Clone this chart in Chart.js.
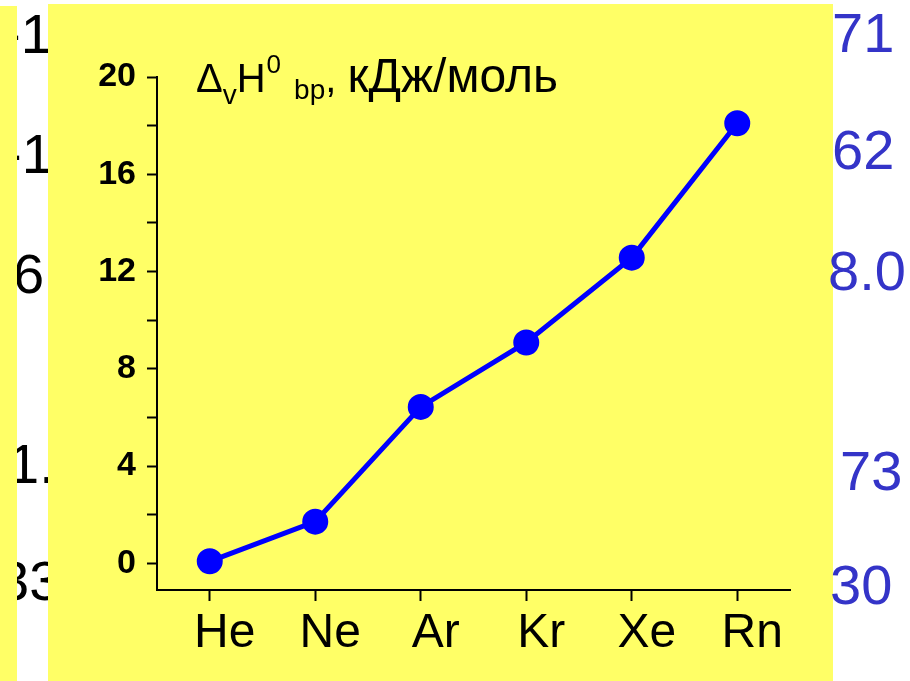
<!DOCTYPE html>
<html lang="ru">
<head>
  <meta charset="UTF-8">
  <title>Enthalpy of vaporization of noble gases</title>
  <script src="https://cdn.jsdelivr.net/npm/chart.js"></script>
  <style>
    body {
      margin: 0;
      width: 910px;
      height: 681px;
      overflow: hidden;
      background-color: #fff;
      font-family: "Liberation Sans", Arial, sans-serif;
      position: relative;
    }
    .strip {
      position: absolute;
      left: 0;
      top: 6px;
      width: 17px;
      height: 675px;
      background-color: #ffff66;
    }
    .panel {
      position: absolute;
      left: 48px;
      top: 4px;
      width: 785px;
      height: 677px;
      background-color: #ffff66;
    }
    .frag {
      position: absolute;
      font-size: 56px;
      line-height: 56px;
      white-space: nowrap;
      color: #000;
    }
    .frag.blue {
      color: #3434c8;
    }
    #chart {
      position: absolute;
      left: 0;
      top: 0;
    }
    #title {
      position: absolute;
      left: 196px;
      top: 58px;
      font-size: 40px;
      line-height: 40px;
      color: #000;
      white-space: nowrap;
    }
    #title span {
      position: relative;
      line-height: 0;
    }
    #title .sub-v { font-size: 28px; top: 12px; }
    #title .sup-0 { font-size: 26px; top: -19px; margin-left: 1px; }
    #title .sub-bp { font-size: 28px; top: 7px; margin-left: 13px; }
    #title .unit { font-size: 48px; }
  </style>
</head>
<body>
  <div id="left-frags"></div>
  <div class="strip"></div>
  <div class="panel"></div>
  <div id="right-frags"></div>
  <canvas id="chart" width="910" height="681"></canvas>
  <div id="title">&Delta;<span class="sub-v">v</span>H<span class="sup-0">0</span><span class="sub-bp">bp</span>, <span class="unit">кДж/моль</span></div>

  <script>
    // noble gases and their enthalpy of vaporization at boiling point, kJ/mol
    const elements = ["He", "Ne", "Ar", "Kr", "Xe", "Rn"];
    const enthalpy = [0.08, 1.71, 6.43, 9.08, 12.57, 18.1];
    const yTickValues = [0, 2, 4, 6, 8, 10, 12, 14, 16, 18, 20];

    // bits of neighbouring columns, cut off by the panels
    const leftFragments = ["-1", "-1", "6", "1.", "33"];
    const leftX = [2, 3, 13, 8, -2];
    const leftY = [6, 126, 246, 436, 553];
    const rightFragments = ["71", "62", "8.0", "73", "30"];
    const rightX = [832, 832, 828, 840, 830];
    const rightY = [5, 122, 243, 443, 557];

    function addFrags(boxId, texts, xs, ys, cls) {
      const box = document.getElementById(boxId);
      texts.forEach((t, i) => {
        const d = document.createElement("div");
        d.className = cls;
        d.style.left = xs[i] + "px";
        d.style.top = ys[i] + "px";
        d.textContent = t;
        box.appendChild(d);
      });
    }
    addFrags("left-frags", leftFragments, leftX, leftY, "frag");
    addFrags("right-frags", rightFragments, rightX, rightY, "frag blue");

    const ctx = document.getElementById("chart").getContext("2d");
    const font = "'Liberation Sans', Arial, sans-serif";

    new Chart(ctx, {
      type: "line",
      data: {
        labels: elements,
        datasets: [{
          data: enthalpy,
          borderColor: "#0000ff",
          backgroundColor: "#0000ff",
          borderWidth: 5,
          pointRadius: 10.5,
          pointHoverRadius: 10.5,
          tension: 0,
          fill: false
        }]
      },
      options: {
        responsive: false,
        animation: false,
        events: [],
        layout: { padding: { left: 0, top: 77, right: 120, bottom: 0 } },
        plugins: {
          legend: { display: false },
          tooltip: { enabled: false }
        },
        scales: {
          x: {
            offset: true,
            afterFit: (scale) => { scale.height = 91; },
            grid: {
              display: true,
              drawOnChartArea: false,
              drawTicks: true,
              tickLength: 11,
              tickWidth: 2,
              color: "#000"
            },
            border: { display: true, color: "#000", width: 2 },
            ticks: {
              color: "#000",
              padding: 4,
              labelOffset: 15,
              font: { family: font, size: 48 }
            }
          },
          y: {
            min: -1.1,
            max: 20,
            afterFit: (scale) => { scale.width = 157; },
            afterBuildTicks: (scale) => {
              scale.ticks = yTickValues.map((v) => ({ value: v }));
            },
            grid: {
              display: true,
              drawOnChartArea: false,
              drawTicks: true,
              tickLength: 10,
              tickWidth: 2,
              color: "#000"
            },
            border: { display: true, color: "#000", width: 2 },
            ticks: {
              color: "#000",
              padding: 11,
              font: { family: font, size: 34, weight: "bold" },
              callback: (v) => (v % 4 === 0 ? String(v) : "")
            }
          }
        }
      }
    });
  </script>
</body>
</html>
